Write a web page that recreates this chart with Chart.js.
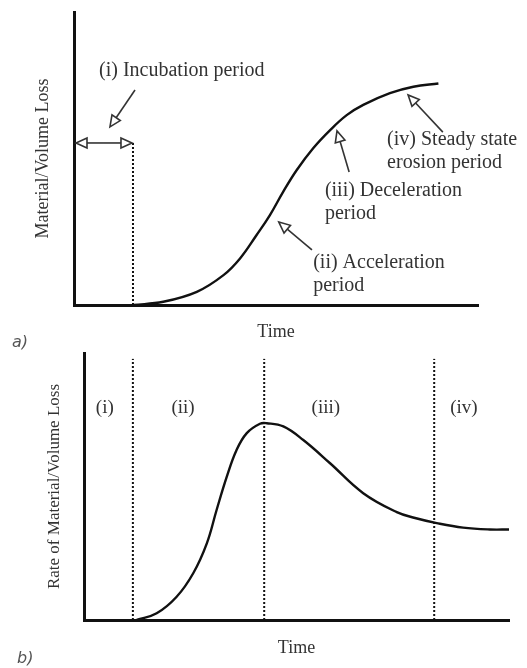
<!DOCTYPE html>
<html>
<head>
<meta charset="utf-8">
<script src="https://cdn.jsdelivr.net/npm/chart.js@4.4.1/dist/chart.umd.min.js"></script>
<style>
  html, body { margin: 0; padding: 0; background: #fff; }
  body { width: 527px; height: 668px; position: relative; overflow: hidden; }
  .box { position: absolute; left: 0; width: 527px; }
  #boxA { top: 0; height: 350px; }
  #boxB { top: 340px; height: 328px; }
  .tag { position: absolute; font: italic 16px "DejaVu Sans", sans-serif; color: #555; }
</style>
</head>
<body>
<div class="box" id="boxA"><canvas id="chartA"></canvas></div>
<div class="box" id="boxB"><canvas id="chartB"></canvas></div>
<div class="tag" style="left:12px; top:332px;">a)</div>
<div class="tag" style="left:17px; top:648px;">b)</div>
<script>
// a) cumulative material/volume loss against time (arbitrary units 0-100)
const lossTime  = [14.7, 22.1, 30.4, 37.0, 41.1, 45.2, 48.5, 51.8, 55.1, 59.2, 63.4, 67.5, 71.6, 78.2, 84.0, 90.2];
const lossValue = [0, 1.1, 4.5, 10.2, 15.9, 23.9, 30.7, 38.7, 46.0, 53.5, 59.7, 64.8, 68.3, 72.3, 74.5, 75.6];
const incubationEnd = 14.6;
const incubationLevel = 55.3;

// b) rate of material/volume loss against time
const rateTime  = [12.4, 17.1, 21.8, 25.7, 28.9, 31.2, 33.6, 35.9, 38.3, 41.4, 43.0, 46.9, 51.6, 57.9, 65.7, 73.6, 77.9, 83.0, 89.2, 95.5, 100];
const rateValue = [0, 2.5, 8.7, 17.5, 28.7, 41.2, 53.7, 63.7, 70.0, 73.5, 73.7, 72.5, 67.4, 58.7, 47.5, 40.4, 38.2, 36.3, 34.6, 33.9, 33.9];
const periodBounds = [11.5, 42.4, 82.4];
const periodTop = 97.8;
const periodLabels = ['(i)', '(ii)', '(iii)', '(iv)'];
const periodLabelX = [4.9, 23.3, 56.9, 89.4];
const periodLabelY = 79.4;

// annotations on chart a, in data units
const notesA = [
    { lines: ['(i) Incubation period'], at: [6.2, 79.9], tail: [15.1, 73.4], tip: [8.9, 60.8] },
    { lines: ['(iv) Steady state', 'erosion period'], at: [77.5, 56.3], tail: [91.3, 59.0], tip: [82.7, 71.7] },
    { lines: ['(iii) Deceleration', 'period'], at: [62.1, 38.9], tail: [68.1, 45.4], tip: [65.1, 59.4] },
    { lines: ['(ii) Acceleration', 'period'], at: [59.2, 14.3], tail: [58.9, 18.8], tip: [50.7, 28.3] }
];

Chart.defaults.font.family = '"Liberation Serif", "Times New Roman", serif';
Chart.defaults.color = '#333';

const ink = '#111';

function drawArrow(ctx, x1, y1, x2, y2) {
    const ang = Math.atan2(y2 - y1, x2 - x1);
    const len = 11, half = 5;
    const bx = x2 - len * Math.cos(ang), by = y2 - len * Math.sin(ang);
    ctx.beginPath();
    ctx.moveTo(x1, y1);
    ctx.lineTo(bx, by);
    ctx.stroke();
    ctx.beginPath();
    ctx.moveTo(x2, y2);
    ctx.lineTo(bx + half * Math.sin(ang), by - half * Math.cos(ang));
    ctx.lineTo(bx - half * Math.sin(ang), by + half * Math.cos(ang));
    ctx.closePath();
    ctx.fillStyle = '#fff';
    ctx.fill();
    ctx.stroke();
}

function axisOpts(title, size, pad) {
    return {
        type: 'linear', min: 0, max: 100,
        ticks: { display: false },
        grid: { display: false, drawTicks: false },
        border: { display: true, width: 3, color: ink },
        title: { display: true, text: title, font: { size: size }, padding: pad }
    };
}

const baseOptions = {
    responsive: true,
    maintainAspectRatio: false,
    animation: false,
    events: [],
    plugins: { legend: { display: false }, tooltip: { enabled: false } },
    elements: { point: { radius: 0 } }
};

// notes for chart a: labels and open-headed arrows
const notesPluginA = {
    id: 'notesA',
    afterDatasetsDraw(chart) {
        const { ctx, scales: { x, y } } = chart;
        ctx.save();
        ctx.strokeStyle = '#333';
        ctx.lineWidth = 1.6;
        ctx.lineJoin = 'miter';
        notesA.forEach(n => {
            drawArrow(ctx, x.getPixelForValue(n.tail[0]), y.getPixelForValue(n.tail[1]),
                x.getPixelForValue(n.tip[0]), y.getPixelForValue(n.tip[1]));
            ctx.fillStyle = '#333';
            ctx.font = '20px "Liberation Serif", serif';
            ctx.textAlign = 'left';
            ctx.textBaseline = 'middle';
            n.lines.forEach((t, i) => {
                ctx.fillText(t, x.getPixelForValue(n.at[0]), y.getPixelForValue(n.at[1]) + i * 23);
            });
        });
        // double arrow across the incubation period
        const yy = y.getPixelForValue(incubationLevel);
        const x0 = x.getPixelForValue(0) + 2, x1 = x.getPixelForValue(incubationEnd) - 1;
        const mid = (x0 + x1) / 2;
        drawArrow(ctx, mid, yy, x0, yy);
        drawArrow(ctx, mid, yy, x1, yy);
        ctx.restore();
    }
};

new Chart(document.getElementById('chartA'), {
    type: 'line',
    data: {
        datasets: [
            {
                data: lossTime.map((t, i) => ({ x: t, y: lossValue[i] })),
                borderColor: ink, borderWidth: 2.4,
                tension: 0.4
            },
            {
                data: [{ x: incubationEnd, y: 0 }, { x: incubationEnd, y: incubationLevel }],
                borderColor: ink, borderWidth: 2, borderDash: [2, 2]
            }
        ]
    },
    options: {
        ...baseOptions,
        layout: { padding: { left: 32, top: 12, right: 49, bottom: 7.4 } },
        scales: {
            x: axisOpts('Time', 18, { top: 16, bottom: 0 }),
            y: axisOpts('Material/Volume Loss', 18, { top: 0, bottom: 20.4 })
        }
    },
    plugins: [notesPluginA]
});

// period labels for chart b
const notesPluginB = {
    id: 'notesB',
    afterDatasetsDraw(chart) {
        const { ctx, scales: { x, y } } = chart;
        ctx.save();
        ctx.fillStyle = '#333';
        ctx.font = '19px "Liberation Serif", serif';
        ctx.textAlign = 'center';
        ctx.textBaseline = 'middle';
        periodLabels.forEach((t, i) => {
            ctx.fillText(t, x.getPixelForValue(periodLabelX[i]), y.getPixelForValue(periodLabelY));
        });
        ctx.restore();
    }
};

new Chart(document.getElementById('chartB'), {
    type: 'line',
    data: {
        datasets: [
            {
                data: rateTime.map((t, i) => ({ x: t, y: rateValue[i] })),
                borderColor: ink, borderWidth: 2.4,
                tension: 0.4
            },
            ...periodBounds.map(b => ({
                data: [{ x: b, y: 0 }, { x: b, y: periodTop }],
                borderColor: ink, borderWidth: 2, borderDash: [2, 2]
            }))
        ]
    },
    options: {
        ...baseOptions,
        layout: { padding: { left: 44.8, top: 13, right: 18, bottom: 9.2 } },
        scales: {
            x: axisOpts('Time', 18, { top: 17.2, bottom: 0 }),
            y: axisOpts('Rate of Material/Volume Loss', 17, { top: 0, bottom: 18.8 })
        }
    },
    plugins: [notesPluginB]
});
</script>
</body>
</html>
